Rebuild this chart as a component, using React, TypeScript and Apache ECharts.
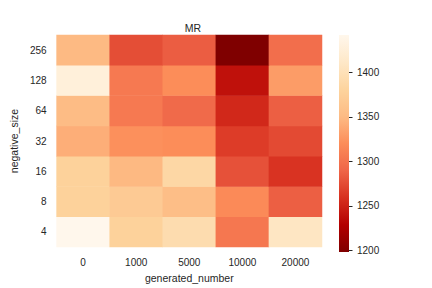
import React, { useEffect, useRef } from "react";
import * as echarts from "echarts";

const xCategories = ["0", "1000", "5000", "10000", "20000"];
const yCategories = ["4", "8", "16", "32", "64", "128", "256"];
// rows bottom (4) to top (256), columns 0..20000
const mrValues: number[][] = [
  [1442, 1378, 1393, 1303, 1408], // 4
  [1378, 1369, 1354, 1318, 1286], // 8
  [1378, 1349, 1386, 1278, 1261], // 16
  [1342, 1322, 1320, 1266, 1274], // 32
  [1352, 1305, 1293, 1254, 1286], // 64
  [1427, 1305, 1320, 1239, 1330], // 128
  [1350, 1276, 1285, 1198, 1296], // 256
];
const colorbarTicks = [1200, 1250, 1300, 1350, 1400];
const vMin = 1198;
const vMax = 1442;
const orRd = ["#fff7ec", "#fee8c8", "#fdd49e", "#fdbb84", "#fc8d59", "#ef6548", "#d7301f", "#b30000", "#7f0000"];

export default function App() {
  const ref = useRef<HTMLDivElement>(null);
  useEffect(() => {
    if (!ref.current) return;
    const chart = echarts.init(ref.current, null, { renderer: "svg" });
    const data: [number, number, number][] = [];
    mrValues.forEach((row, yi) => row.forEach((v, xi) => data.push([xi, yi, v])));
    const font = "Liberation Sans, Arial, sans-serif";
    const txt = "#262626";
    const reversed = [...orRd].reverse();
    const barRect = {
      type: "rect",
      id: "colorbar",
      shape: { x: 339, y: 35, width: 10, height: 217 },
      style: {
        fill: new echarts.graphic.LinearGradient(
          0, 0, 0, 1,
          orRd.map((c, i) => ({ offset: i / (orRd.length - 1), color: c }))
        ),
      },
      z: -1,
    };
    chart.setOption({
      animation: false,
      backgroundColor: "#ffffff",
      title: {
        text: "MR",
        left: 188,
        top: 17,
        textAlign: "center",
        textStyle: { fontFamily: font, fontSize: 10.5, fontWeight: "normal", color: txt },
      },
      grid: [
        { left: 54, top: 35, width: 268, height: 217 },
        { left: 339, top: 35, width: 10, height: 217 },
      ],
      xAxis: [
        {
          type: "category",
          gridIndex: 0,
          data: xCategories,
          name: "generated_number",
          nameLocation: "middle",
          nameGap: 24,
          nameTextStyle: { fontFamily: font, fontSize: 10.5, color: txt },
          axisLine: { show: false },
          axisTick: { show: false },
          axisLabel: { fontFamily: font, fontSize: 10, color: txt, margin: 10 },
          splitLine: { show: false },
        },
        {
          type: "value",
          gridIndex: 1,
          min: 0,
          max: 1,
          show: false,
        },
      ],
      yAxis: [
        {
          type: "category",
          gridIndex: 0,
          data: yCategories,
          name: "negative_size",
          nameLocation: "middle",
          nameGap: 31,
          nameTextStyle: { fontFamily: font, fontSize: 10.5, color: txt },
          axisLine: { show: false },
          axisTick: { show: false },
          axisLabel: { fontFamily: font, fontSize: 10, color: txt, margin: 10 },
          splitLine: { show: false },
        },
        {
          type: "value",
          gridIndex: 1,
          position: "right",
          min: vMin,
          max: vMax,
          axisLine: { show: false },
          axisTick: { show: false },
          axisLabel: {
            customValues: colorbarTicks,
            fontFamily: font,
            fontSize: 10,
            color: txt,
            margin: 8,
            formatter: (v: number) => String(v),
          },
          splitLine: { show: false },
        },
      ],
      visualMap: {
        show: false,
        min: vMin,
        max: vMax,
        seriesIndex: 0,
        inRange: { color: reversed },
      },
      graphic: [barRect],
      series: [
        {
          type: "heatmap",
          xAxisIndex: 0,
          yAxisIndex: 0,
          data,
          itemStyle: { borderWidth: 0 },
        },
      ],
    });
    const tickLines = colorbarTicks.map((v, i) => {
      const p = chart.convertToPixel({ xAxisIndex: 1, yAxisIndex: 1 } as any, [1, v]) as number[];
      const y = Math.round(p[1]) + 0.5;
      return {
        type: "line",
        id: "tick" + i,
        shape: { x1: p[0], y1: y, x2: p[0] + 3.5, y2: y },
        style: { stroke: txt, lineWidth: 1 },
        z: 10,
      };
    });
    chart.setOption({ graphic: [barRect, ...tickLines] });
    return () => chart.dispose();
  }, []);
  return <div ref={ref} style={{ width: 432, height: 288, position: "absolute", left: 0, top: 0 }} />;
}
